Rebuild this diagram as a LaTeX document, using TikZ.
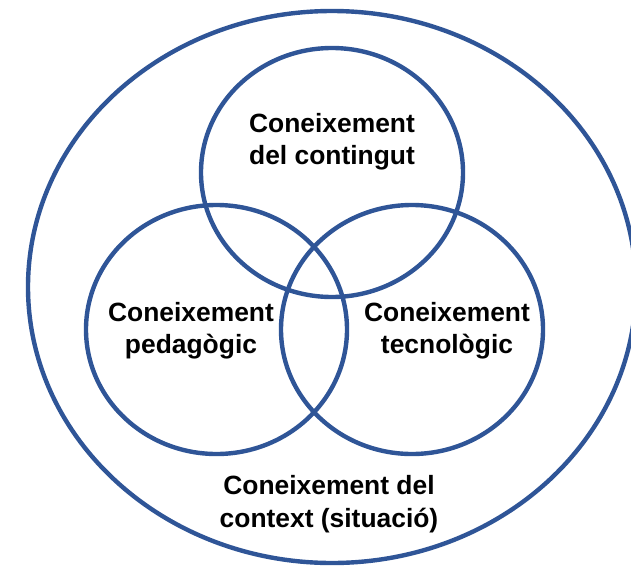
\documentclass[tikz,border=0pt]{standalone}
\usepackage{fontspec}
\setmainfont{Liberation Sans}
\definecolor{vennblue}{RGB}{47,85,151}
\begin{document}
\begin{tikzpicture}[line cap=round,line join=round,x=0.75pt,y=-0.75pt,
		set/.style={draw=vennblue,line width=3.3pt},
		lbl/.style={font=\fontsize{19.8}{24.3}\selectfont\bfseries,align=center,text=black}]
				\useasboundingbox (0,0) rectangle (631,571);
				\clip (0,0) rectangle (631,571);
				\draw [set] (332,287) ellipse (304 and 276);
				\draw [set] (332,172.5) ellipse (131 and 124.5);
				\draw [set] (216.5,329.5) ellipse (130.5 and 124.5);
				\draw [set] (412,329.5) ellipse (131 and 124.5);
				\node [lbl] (contingut) at (332,142) {Coneixement\\del contingut};
				\node [lbl] (pedagogic) at (191,331) {Coneixement\\pedagògic};
				\node [lbl] (tecnologic) at (447,331) {Coneixement\\tecnològic};
				\node [lbl] (context) at (329,504) {Coneixement del\\context (situació)};
			\end{tikzpicture}
\end{document}
